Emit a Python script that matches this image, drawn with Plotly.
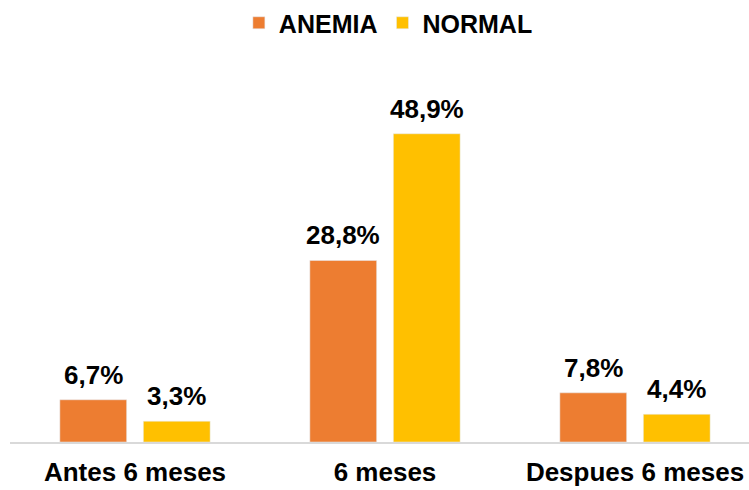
import plotly.graph_objects as go

categories = ["Antes 6 meses", "6 meses", "Despues 6 meses"]
anemia = [6.7, 28.8, 7.8]
normal = [3.3, 48.9, 4.4]

def fmt(v):
    return f"{v:.1f}%".replace(".", ",")

font_family = "Liberation Sans, Arial, sans-serif"
label_font = dict(size=26, color="black", family=font_family, weight="bold")

fig = go.Figure()
fig.add_trace(go.Bar(name="ANEMIA", x=categories, y=anemia, marker_color="#ED7D31"))
fig.add_trace(go.Bar(name="NORMAL", x=categories, y=normal, marker_color="#FFC000"))

# value labels above bars (offset to each bar within its group)
for vals, shift in ((anemia, -41.75), (normal, 41.75)):
    for c, v in zip(categories, vals):
        fig.add_annotation(x=c, y=v, text=fmt(v), showarrow=False, xshift=shift,
                           yanchor="bottom", yshift=8, font=label_font)

fig.update_layout(
    width=749, height=490,
    margin=dict(l=10, r=0, t=60, b=48),
    barmode="group", bargap=0.332, bargroupgap=0.2,
    plot_bgcolor="white", paper_bgcolor="white",
    font=dict(family=font_family, color="black"),
    showlegend=True,
    legend=dict(orientation="h", x=0.512, xanchor="center", y=1.0, yanchor="top",
                yref="container", font=dict(size=25, color="black", family=font_family, weight="bold"),
                traceorder="normal", itemwidth=30),
    xaxis=dict(range=[-0.5, 2.456], showline=True, linecolor="#D9D9D9", linewidth=2,
               ticks="", ticklabelstandoff=6,
               tickfont=dict(size=26, color="black", family=font_family, weight="bold"),
               showgrid=False),
    yaxis=dict(range=[0, 60.6], visible=False, showgrid=False, zeroline=False),
)
fig.write_html("out.html")
